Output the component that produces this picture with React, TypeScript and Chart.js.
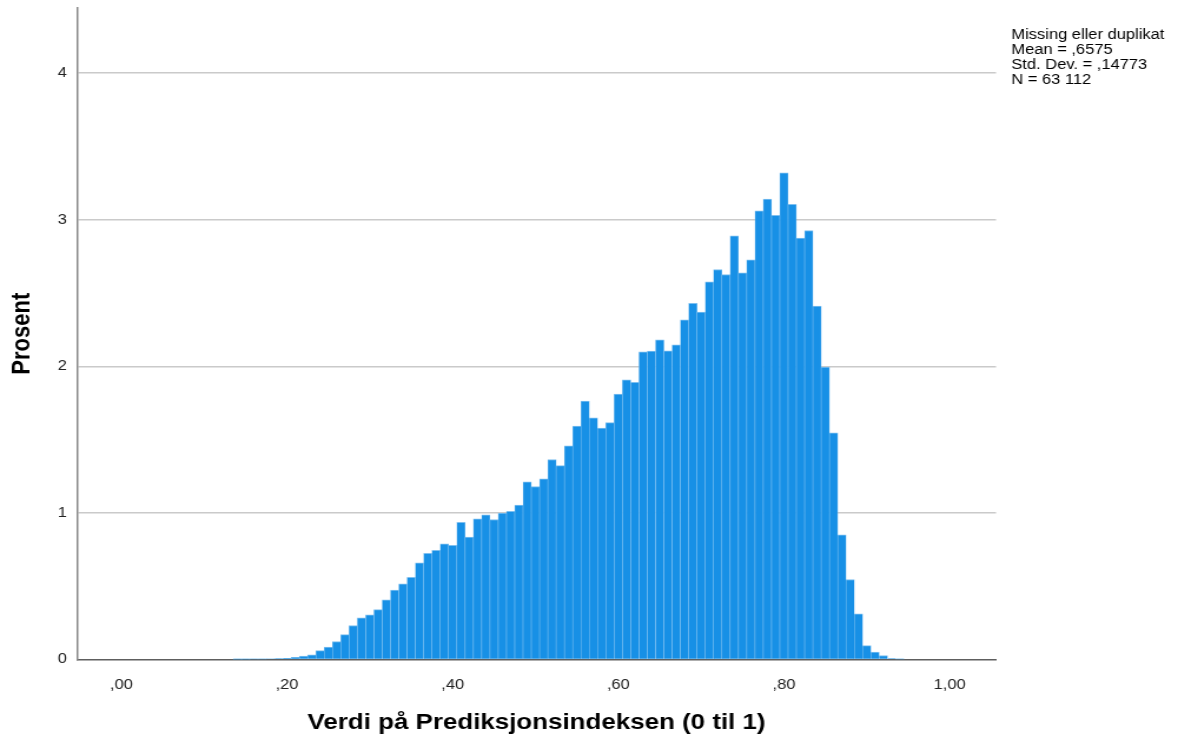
import React, { useEffect, useRef } from 'react';
import { Chart, registerables } from 'chart.js';

Chart.register(...registerables);

// Histogram bins (centre of each 0,01-wide bin)
const binCenters = [
  0.14, 0.15, 0.16, 0.17, 0.18, 0.19, 0.2, 0.21, 0.22, 0.23,
  0.24, 0.25, 0.26, 0.27, 0.28, 0.29, 0.3, 0.31, 0.32, 0.33,
  0.34, 0.35, 0.36, 0.37, 0.38, 0.39, 0.4, 0.41, 0.42, 0.43,
  0.44, 0.45, 0.46, 0.47, 0.48, 0.49, 0.5, 0.51, 0.52, 0.53,
  0.54, 0.55, 0.56, 0.57, 0.58, 0.59, 0.6, 0.61, 0.62, 0.63,
  0.64, 0.65, 0.66, 0.67, 0.68, 0.69, 0.7, 0.71, 0.72, 0.73,
  0.74, 0.75, 0.76, 0.77, 0.78, 0.79, 0.8, 0.81, 0.82, 0.83,
  0.84, 0.85, 0.86, 0.87, 0.88, 0.89, 0.9, 0.91, 0.92, 0.93,
  0.94,
];

// Percent in each bin
const percentValues = [
  0.001, 0.001, 0.002, 0.002, 0.004, 0.006, 0.008, 0.014, 0.024, 0.032,
  0.061, 0.084, 0.123, 0.17, 0.232, 0.284, 0.305, 0.34, 0.407, 0.473,
  0.516, 0.561, 0.66, 0.725, 0.744, 0.789, 0.778, 0.935, 0.835, 0.96,
  0.987, 0.955, 0.998, 1.01, 1.053, 1.212, 1.18, 1.232, 1.364, 1.323,
  1.457, 1.592, 1.762, 1.648, 1.578, 1.616, 1.81, 1.908, 1.89, 2.098,
  2.103, 2.18, 2.106, 2.147, 2.317, 2.43, 2.37, 2.576, 2.66, 2.626,
  2.89, 2.638, 2.726, 3.06, 3.14, 3.03, 3.32, 3.105, 2.875, 2.926,
  2.41, 1.994, 1.546, 0.85, 0.546, 0.312, 0.095, 0.05, 0.027, 0.006,
  0.002,
];

const statLines = [
  'Missing eller duplikat',
  'Mean = ,6575',
  'Std. Dev. = ,14773',
  'N = 63 112',
];

const xTitle = 'Verdi på Prediksjonsindeksen (0 til 1)';
const yTitle = 'Prosent';

const FONT = '"Liberation Sans", Arial, Helvetica, sans-serif';
const INTERNAL_W = 1000;
const H = 744;
const DISPLAY_W = 1178;

const fmtX = (v: number) => {
  const s = Number(v).toFixed(2).replace('.', ',');
  return s.startsWith('0,') ? s.slice(1) : s;
};

const statsPlugin = {
  id: 'statsText',
  afterDraw(chart: any) {
    const { ctx, chartArea } = chart;
    ctx.save();
    ctx.font = `14px ${FONT}`;
    ctx.fillStyle = '#000';
    ctx.textBaseline = 'alphabetic';
    ctx.textAlign = 'left';
    statLines.forEach((t, i) => {
      ctx.fillText(t, chartArea.right + 13, 39 + i * 15);
    });
    ctx.restore();
  },
};

export default function App() {
  const canvasRef = useRef<HTMLCanvasElement | null>(null);

  useEffect(() => {
    document.body.style.margin = '0';
    const canvas = canvasRef.current;
    if (!canvas) return;
    const chart = new Chart(canvas, {
      type: 'bar',
      data: {
        datasets: [
          {
            data: binCenters.map((x, i) => ({ x, y: percentValues[i] })),
            backgroundColor: '#1790e6',
            borderColor: '#7dbff0',
            borderWidth: { top: 1, left: 0.6, right: 0.6, bottom: 0 },
            borderSkipped: false,
            barPercentage: 1,
            categoryPercentage: 1,
          } as any,
        ],
      },
      options: {
        animation: false,
        responsive: false,
        maintainAspectRatio: false,
        devicePixelRatio: 1,
        layout: { padding: { left: 0, top: 8, right: 154.5, bottom: 0 } },
        plugins: {
          legend: { display: false },
          tooltip: { enabled: false },
        },
        scales: {
          x: {
            type: 'linear',
            offset: false,
            min: -0.0535,
            max: 1.056,
            afterFit: (s: any) => {
              s.height = 84.5;
              s.paddingLeft = 0;
              s.paddingRight = 0;
            },
            grid: { display: false },
            border: { display: true, color: '#5e5e5e', width: 1.5 },
            ticks: {
              stepSize: 0.2,
              includeBounds: false,
              autoSkip: false,
              maxRotation: 0,
              padding: 9,
              color: '#222',
              font: { family: FONT, size: 14 },
              callback: (v: any) => fmtX(v),
            },
            title: {
              display: true,
              text: xTitle,
              color: '#000',
              font: { family: FONT, size: 22, weight: 'bold' },
              padding: { top: 0, bottom: 7.5 },
            },
          },
          y: {
            type: 'linear',
            min: 0,
            max: 4.444,
            afterFit: (s: any) => {
              s.width = 65.4;
              s.paddingTop = 0;
              s.paddingBottom = 0;
            },
            grid: {
              drawTicks: false,
              color: (c: any) => (c.tick && c.tick.value === 0 ? 'rgba(0,0,0,0)' : '#cacaca'),
              lineWidth: 1.5,
            },
            border: { display: true, color: '#8a8a8a', width: 1.5 },
            ticks: {
              stepSize: 1,
              includeBounds: false,
              padding: 8.5,
              color: '#222',
              font: { family: FONT, size: 14 },
              callback: (v: any) => String(v),
            },
            title: {
              display: true,
              text: yTitle,
              color: '#000',
              font: { family: FONT, size: 22, weight: 'bold' },
              padding: { top: 6, bottom: 0 },
            },
          },
        },
      } as any,
      plugins: [statsPlugin],
    });
    return () => chart.destroy();
  }, []);

  return (
    <div style={{ position: 'absolute', left: 0, top: 0, width: DISPLAY_W, height: H }}>
      <canvas
        ref={canvasRef}
        width={INTERNAL_W}
        height={H}
        style={{ width: `${DISPLAY_W}px`, height: `${H}px`, display: 'block' }}
      />
    </div>
  );
}
